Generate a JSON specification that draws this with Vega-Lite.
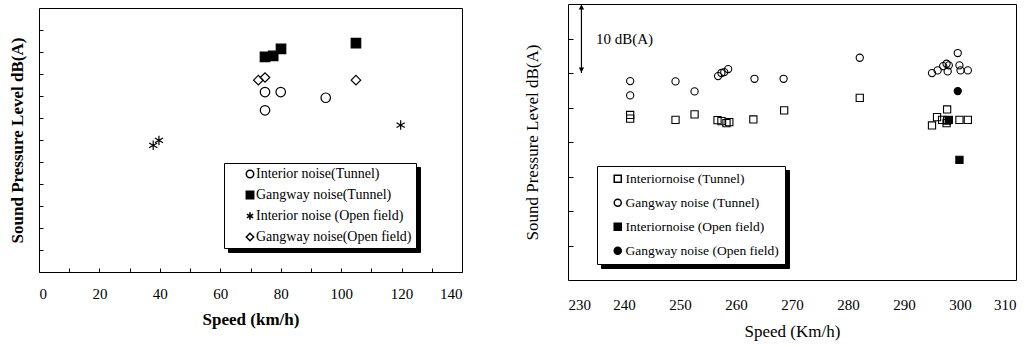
{
  "$schema": "https://vega.github.io/schema/vega-lite/v6.json",
  "background": "white",
  "padding": {"left": 8, "top": 2, "right": 5, "bottom": 5},
  "spacing": 60,
  "config": {
    "font": "Liberation Serif",
    "view": {"stroke": "black", "strokeWidth": 1},
    "axis": {"grid": false, "domain": false, "tickColor": "black", "labelColor": "black", "titleColor": "black", "labelFont": "Liberation Serif", "titleFont": "Liberation Serif"}
  },
  "resolve": {
    "scale": {"x": "independent", "y": "independent", "shape": "independent", "fill": "independent", "opacity": "independent"},
    "legend": {"shape": "independent", "fill": "independent", "opacity": "independent"}
  },
  "datasets": {
    "left": [
      {"speed": 74.8, "spl": 95.9, "series": "Interior noise(Tunnel)"},
      {"speed": 80.0, "spl": 95.9, "series": "Interior noise(Tunnel)"},
      {"speed": 74.8, "spl": 91.75, "series": "Interior noise(Tunnel)"},
      {"speed": 94.9, "spl": 94.6, "series": "Interior noise(Tunnel)"},
      {"speed": 74.8, "spl": 103.9, "series": "Gangway noise(Tunnel)"},
      {"speed": 77.5, "spl": 104.1, "series": "Gangway noise(Tunnel)"},
      {"speed": 80.1, "spl": 105.7, "series": "Gangway noise(Tunnel)"},
      {"speed": 104.9, "spl": 107.0, "series": "Gangway noise(Tunnel)"},
      {"speed": 37.8, "spl": 83.8, "series": "Interior noise (Open field)"},
      {"speed": 39.7, "spl": 84.9, "series": "Interior noise (Open field)"},
      {"speed": 119.7, "spl": 88.4, "series": "Interior noise (Open field)"},
      {"speed": 72.6, "spl": 98.6, "series": "Gangway noise(Open field)"},
      {"speed": 74.8, "spl": 99.2, "series": "Gangway noise(Open field)"},
      {"speed": 104.9, "spl": 98.6, "series": "Gangway noise(Open field)"}
    ],
    "right": [
      {"speed": 241.1, "spl": 83.92, "series": "Interiornoise (Tunnel)"},
      {"speed": 241.1, "spl": 83.39, "series": "Interiornoise (Tunnel)"},
      {"speed": 249.2, "spl": 83.21, "series": "Interiornoise (Tunnel)"},
      {"speed": 252.6, "spl": 84.0, "series": "Interiornoise (Tunnel)"},
      {"speed": 256.7, "spl": 83.17, "series": "Interiornoise (Tunnel)"},
      {"speed": 257.4, "spl": 83.02, "series": "Interiornoise (Tunnel)"},
      {"speed": 258.3, "spl": 82.73, "series": "Interiornoise (Tunnel)"},
      {"speed": 258.8, "spl": 82.88, "series": "Interiornoise (Tunnel)"},
      {"speed": 263.1, "spl": 83.27, "series": "Interiornoise (Tunnel)"},
      {"speed": 268.6, "spl": 84.58, "series": "Interiornoise (Tunnel)"},
      {"speed": 282.1, "spl": 86.4, "series": "Interiornoise (Tunnel)"},
      {"speed": 297.7, "spl": 84.72, "series": "Interiornoise (Tunnel)"},
      {"speed": 295.9, "spl": 83.6, "series": "Interiornoise (Tunnel)"},
      {"speed": 295.0, "spl": 82.4, "series": "Interiornoise (Tunnel)"},
      {"speed": 296.8, "spl": 83.21, "series": "Interiornoise (Tunnel)"},
      {"speed": 297.7, "spl": 83.12, "series": "Interiornoise (Tunnel)"},
      {"speed": 297.6, "spl": 82.73, "series": "Interiornoise (Tunnel)"},
      {"speed": 299.9, "spl": 83.21, "series": "Interiornoise (Tunnel)"},
      {"speed": 301.4, "spl": 83.21, "series": "Interiornoise (Tunnel)"},
      {"speed": 241.1, "spl": 88.83, "series": "Gangway noise (Tunnel)"},
      {"speed": 241.1, "spl": 86.75, "series": "Gangway noise (Tunnel)"},
      {"speed": 249.2, "spl": 88.78, "series": "Gangway noise (Tunnel)"},
      {"speed": 252.6, "spl": 87.33, "series": "Gangway noise (Tunnel)"},
      {"speed": 256.8, "spl": 89.55, "series": "Gangway noise (Tunnel)"},
      {"speed": 257.4, "spl": 90.0, "series": "Gangway noise (Tunnel)"},
      {"speed": 257.9, "spl": 90.13, "series": "Gangway noise (Tunnel)"},
      {"speed": 258.6, "spl": 90.57, "series": "Gangway noise (Tunnel)"},
      {"speed": 263.3, "spl": 89.16, "series": "Gangway noise (Tunnel)"},
      {"speed": 268.5, "spl": 89.16, "series": "Gangway noise (Tunnel)"},
      {"speed": 282.1, "spl": 92.21, "series": "Gangway noise (Tunnel)"},
      {"speed": 299.6, "spl": 92.89, "series": "Gangway noise (Tunnel)"},
      {"speed": 295.0, "spl": 89.99, "series": "Gangway noise (Tunnel)"},
      {"speed": 296.0, "spl": 90.38, "series": "Gangway noise (Tunnel)"},
      {"speed": 297.0, "spl": 91.0, "series": "Gangway noise (Tunnel)"},
      {"speed": 297.6, "spl": 91.34, "series": "Gangway noise (Tunnel)"},
      {"speed": 298.0, "spl": 91.11, "series": "Gangway noise (Tunnel)"},
      {"speed": 297.8, "spl": 90.23, "series": "Gangway noise (Tunnel)"},
      {"speed": 299.9, "spl": 91.11, "series": "Gangway noise (Tunnel)"},
      {"speed": 300.1, "spl": 90.38, "series": "Gangway noise (Tunnel)"},
      {"speed": 301.4, "spl": 90.38, "series": "Gangway noise (Tunnel)"},
      {"speed": 298.0, "spl": 83.21, "series": "Interiornoise (Open field)"},
      {"speed": 299.9, "spl": 77.41, "series": "Interiornoise (Open field)"},
      {"speed": 299.6, "spl": 87.38, "series": "Gangway noise (Open field)"}
    ],
    "arrow": [{"speed": 232.4, "spl": 100, "spl2": 90}],
    "heads": [
      {"speed": 232.4, "spl": 99.55, "head": "triangle-up"},
      {"speed": 232.4, "spl": 90.45, "head": "triangle-down"}
    ],
    "note": [{"speed": 235.0, "spl": 95, "label": "10 dB(A)"}],
    "empty": []
  },
  "hconcat": [
    {
      "spacing": 2,
      "vconcat": [
        {
          "width": 423,
          "height": 1,
          "data": {"name": "empty"},
          "view": {"stroke": null},
          "mark": {"type": "rule"},
          "encoding": {}
        },
        {
          "width": 423,
          "height": 264,
          "data": {"name": "left"},
          "mark": {"type": "point", "stroke": "black", "strokeWidth": 1.2, "opacity": 1, "size": 90},
          "encoding": {
            "x": {
              "field": "speed", "type": "quantitative",
              "scale": {"domain": [0, 140], "nice": false},
              "axis": {
                "values": [0, 10, 20, 30, 40, 50, 60, 70, 80, 90, 100, 110, 120, 130, 140],
                "labelExpr": "datum.value % 20 == 0 ? datum.label : ''",
                "labelOverlap": false, "tickSize": -4, "labelPadding": 18,
                "labelFontSize": 15, "title": "Speed (km/h)", "titleFontSize": 17,
                "titleFontWeight": "bold", "titlePadding": 10
              }
            },
            "y": {
              "field": "spl", "type": "quantitative",
              "scale": {"domain": [55, 115], "nice": false, "zero": false},
              "axis": {
                "values": [60, 65, 70, 75, 80, 85, 90, 95, 100, 105, 110],
                "labels": false, "tickSize": -4,
                "title": "Sound Pressure Level dB(A)", "titleFontSize": 17,
                "titleFontWeight": "bold", "titlePadding": 12
              }
            },
            "shape": {
              "field": "series", "type": "nominal",
              "scale": {
                "domain": ["Interior noise(Tunnel)", "Gangway noise(Tunnel)", "Interior noise (Open field)", "Gangway noise(Open field)"],
                "range": ["circle", "square", "M0,-1L0,1M-0.866,-0.5L0.866,0.5M-0.866,0.5L0.866,-0.5", "diamond"]
              },
              "legend": {
                "orient": "none", "legendX": 185, "legendY": 159, "title": null,
                "labelFont": "Liberation Serif", "labelFontSize": 14, "labelColor": "black",
                "strokeColor": "black", "fillColor": "white", "padding": 4, "rowPadding": 7,
                "symbolOffset": 15, "labelOffset": -1, "symbolSize": 55,
                "labelExpr": "datum.label + '     '", "zindex": 2,
                "encode": {"symbols": {"update": {"stroke": {"value": "black"}, "strokeWidth": {"value": 1}}}}
              }
            },
            "fill": {
              "field": "series", "type": "nominal",
              "scale": {
                "domain": ["Interior noise(Tunnel)", "Gangway noise(Tunnel)", "Interior noise (Open field)", "Gangway noise(Open field)"],
                "range": ["transparent", "black", "transparent", "transparent"]
              },
              "legend": {
                "orient": "none", "legendX": 185, "legendY": 159, "title": null,
                "labelFont": "Liberation Serif", "labelFontSize": 14, "labelColor": "black",
                "strokeColor": "black", "fillColor": "white", "padding": 4, "rowPadding": 7,
                "symbolOffset": 15, "labelOffset": -1, "symbolSize": 55,
                "labelExpr": "datum.label + '     '", "zindex": 2,
                "encode": {"symbols": {"update": {"stroke": {"value": "black"}, "strokeWidth": {"value": 1}}}}
              }
            },
            "opacity": {
              "field": "series", "type": "nominal",
              "scale": {
                "domain": ["Gangway noise(Open field)", "Interior noise (Open field)", "Gangway noise(Tunnel)", "Interior noise(Tunnel)"],
                "range": [1, 1, 1, 1]
              },
              "legend": {
                "orient": "none", "legendX": 189, "legendY": 163, "title": null,
                "labelFont": "Liberation Serif", "labelFontSize": 14, "labelColor": "black",
                "strokeColor": "black", "fillColor": "black", "padding": 4, "rowPadding": 7,
                "symbolOffset": 15, "labelOffset": -1, "symbolSize": 55,
                "labelExpr": "datum.label + '     '", "zindex": 1,
                "encode": {"symbols": {"update": {"stroke": {"value": "black"}, "fill": {"value": "black"}}}}
              }
            }
          }
        }
      ]
    },
    {
      "width": 448,
      "height": 276,
      "layer": [
        {
          "data": {"name": "right"},
          "mark": {"type": "point", "stroke": "black", "strokeWidth": 1.1, "opacity": 1, "size": 52},
          "encoding": {
            "x": {
              "field": "speed", "type": "quantitative",
              "scale": {"domain": [230, 310], "nice": false, "zero": false},
              "axis": {
                "values": [230, 240, 250, 260, 270, 280, 290, 300, 310],
                "ticks": false, "labelPadding": 17, "labelFontSize": 15,
                "title": "Speed (Km/h)", "titleFontSize": 17, "titleFontWeight": "normal",
                "titlePadding": 11
              }
            },
            "y": {
              "field": "spl", "type": "quantitative",
              "scale": {"domain": [60, 100], "nice": false, "zero": false},
              "axis": {
                "values": [65, 70, 75, 80, 85, 90, 95],
                "labels": false, "tickSize": -5,
                "title": "Sound Pressure Level dB(A)", "titleFontSize": 17,
                "titleFontWeight": "normal", "titlePadding": 26
              }
            },
            "shape": {
              "field": "series", "type": "nominal",
              "scale": {
                "domain": ["Interiornoise (Tunnel)", "Gangway noise (Tunnel)", "Interiornoise (Open field)", "Gangway noise (Open field)"],
                "range": ["square", "circle", "square", "circle"]
              },
              "legend": {
                "orient": "none", "legendX": 29, "legendY": 162, "title": null,
                "labelFont": "Liberation Serif", "labelFontSize": 13.5, "labelColor": "black",
                "strokeColor": "black", "fillColor": "white", "padding": 6, "rowPadding": 9,
                "symbolOffset": 8, "labelOffset": 1, "symbolSize": 50, "zindex": 2,
                "encode": {"symbols": {"update": {"stroke": {"value": "black"}, "strokeWidth": {"value": 1}}}}
              }
            },
            "fill": {
              "field": "series", "type": "nominal",
              "scale": {
                "domain": ["Interiornoise (Tunnel)", "Gangway noise (Tunnel)", "Interiornoise (Open field)", "Gangway noise (Open field)"],
                "range": ["transparent", "transparent", "black", "black"]
              },
              "legend": {
                "orient": "none", "legendX": 29, "legendY": 162, "title": null,
                "labelFont": "Liberation Serif", "labelFontSize": 13.5, "labelColor": "black",
                "strokeColor": "black", "fillColor": "white", "padding": 6, "rowPadding": 9,
                "symbolOffset": 8, "labelOffset": 1, "symbolSize": 50, "zindex": 2,
                "encode": {"symbols": {"update": {"stroke": {"value": "black"}, "strokeWidth": {"value": 1}}}}
              }
            },
            "opacity": {
              "field": "series", "type": "nominal",
              "scale": {
                "domain": ["Gangway noise (Open field)", "Interiornoise (Open field)", "Gangway noise (Tunnel)", "Interiornoise (Tunnel)"],
                "range": [1, 1, 1, 1]
              },
              "legend": {
                "orient": "none", "legendX": 33, "legendY": 166, "title": null,
                "labelFont": "Liberation Serif", "labelFontSize": 13.5, "labelColor": "black",
                "strokeColor": "black", "fillColor": "black", "padding": 6, "rowPadding": 9,
                "symbolOffset": 8, "labelOffset": 1, "symbolSize": 50, "zindex": 1,
                "encode": {"symbols": {"update": {"stroke": {"value": "black"}, "fill": {"value": "black"}}}}
              }
            }
          }
        },
        {
          "data": {"name": "arrow"},
          "mark": {"type": "rule", "color": "black", "strokeWidth": 1.2},
          "encoding": {
            "x": {"field": "speed", "type": "quantitative"},
            "y": {"field": "spl", "type": "quantitative"},
            "y2": {"field": "spl2"}
          }
        },
        {
          "data": {"name": "heads"},
          "mark": {"type": "point", "filled": true, "color": "black", "size": 30, "opacity": 1},
          "encoding": {
            "x": {"field": "speed", "type": "quantitative"},
            "y": {"field": "spl", "type": "quantitative"},
            "shape": {"field": "head", "type": "nominal", "scale": null, "legend": null}
          }
        },
        {
          "data": {"name": "note"},
          "mark": {"type": "text", "align": "left", "baseline": "middle", "font": "Liberation Serif", "fontSize": 15, "color": "black"},
          "encoding": {
            "x": {"field": "speed", "type": "quantitative"},
            "y": {"field": "spl", "type": "quantitative"},
            "text": {"field": "label"}
          }
        }
      ]
    }
  ]
}
